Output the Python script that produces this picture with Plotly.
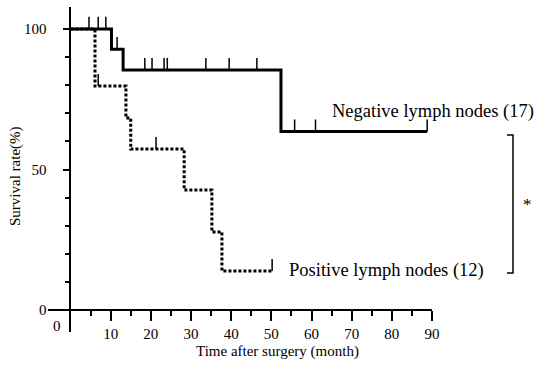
import plotly.graph_objects as go

# ---- data ----
neg_times = [0, 10.2, 13.1, 52.4, 88.8]
neg_surv = [100, 92.8, 85.4, 63.5, 63.5]
neg_censor = [4.6, 6.9, 8.8, 11.6, 18.5, 20.3, 23.3, 24.1, 33.7, 39.5, 46.4, 55.8, 61.0, 88.8]

pos_times = [0, 6.1, 13.8, 15.0, 28.3, 35.2, 37.7, 50.2]
pos_surv = [100, 79.7, 68.3, 57.3, 42.7, 27.8, 13.9, 13.9]
pos_censor = [6.9, 21.3, 50.2]

x_ticks = [10, 20, 30, 40, 50, 60, 70, 80, 90]
x_minor = [5, 15, 25, 35, 45, 55, 65, 75, 85]
y_ticks = [0, 50, 100]
y_minor = [10, 20, 30, 40, 60, 70, 80, 90]

neg_label = "Negative lymph nodes (17)"
pos_label = "Positive lymph nodes (12)"

W, H = 539, 386
ML, MR, MT, MB = 48, 107, 7, 54
XR = [-5.6, 90.0]
YR = [-7.8, 107.8]
FONT = "Liberation Serif"


def surv_at(times, surv, t):
    s = surv[0]
    for tt, ss in zip(times, surv):
        if tt <= t:
            s = ss
    return s


def censor_segments(times, surv, cens, h=4.3):
    xs, ys = [], []
    for c in cens:
        s = surv_at(times, surv, c)
        xs += [c, c, None]
        ys += [s, s + h, None]
    return xs, ys


def px(xp):
    return (xp - ML) / (W - ML - MR)


def py(yp):
    return (H - MB - yp) / (H - MT - MB)


fig = go.Figure()

fig.add_trace(go.Scatter(x=neg_times, y=neg_surv, mode="lines", line_shape="hv",
                         line=dict(color="black", width=3), showlegend=False, hoverinfo="skip"))
fig.add_trace(go.Scatter(x=pos_times, y=pos_surv, mode="lines", line_shape="hv",
                         line=dict(color="black", width=3, dash="3px,2px"), showlegend=False,
                         hoverinfo="skip"))

cx, cy = censor_segments(neg_times, neg_surv, neg_censor)
fig.add_trace(go.Scatter(x=cx, y=cy, mode="lines", line=dict(color="black", width=1.5),
                         showlegend=False, hoverinfo="skip"))
cx, cy = censor_segments(pos_times, pos_surv, pos_censor)
fig.add_trace(go.Scatter(x=cx, y=cy, mode="lines", line=dict(color="black", width=1.5),
                         showlegend=False, hoverinfo="skip"))

xpos = (0 - YR[0]) / (YR[1] - YR[0])
ypos = (0 - XR[0]) / (XR[1] - XR[0])

fig.update_layout(
    width=W, height=H, autosize=False,
    margin=dict(l=ML, r=MR, t=MT, b=MB, pad=0, autoexpand=False),
    plot_bgcolor="white", paper_bgcolor="white",
    font=dict(family=FONT, size=15, color="black"),
    xaxis=dict(range=XR, anchor="free", position=xpos, automargin=False, showline=True,
               linecolor="black", linewidth=2, showgrid=False, zeroline=False, tickmode="array",
               tickvals=x_ticks, ticks="outside", ticklen=10, tickwidth=1.5, tickcolor="black",
               ticklabelstandoff=0,
               tickfont=dict(family=FONT, size=15, color="black"),
               minor=dict(tickmode="array", tickvals=x_minor, ticks="outside", ticklen=5,
                          tickwidth=1.5, tickcolor="black", showgrid=False)),
    yaxis=dict(range=YR, anchor="free", position=ypos, automargin=False, showline=True,
               linecolor="black", linewidth=2, showgrid=False, zeroline=False, tickmode="array",
               tickvals=y_ticks, ticks="outside", ticklen=6, tickwidth=1.5, tickcolor="black",
               ticklabelstandoff=14,
               tickfont=dict(family=FONT, size=15, color="black"),
               minor=dict(tickmode="array", tickvals=y_minor, ticks="outside", ticklen=4,
                          tickwidth=1.5, tickcolor="black", showgrid=False)),
)

ann = [
    dict(text=neg_label, x=64.7, y=70.5, xref="x", yref="y", xanchor="left", yanchor="middle",
         showarrow=False, font=dict(family=FONT, size=18.5, color="black")),
    dict(text=pos_label, x=53.9, y=14.2, xref="x", yref="y", xanchor="left", yanchor="middle",
         showarrow=False, font=dict(family=FONT, size=18.5, color="black")),
    dict(text="Time after surgery (month)", x=px(277), y=py(351), xref="paper", yref="paper",
         xanchor="center", yanchor="middle", showarrow=False,
         font=dict(family=FONT, size=15, color="black")),
    dict(text="Survival rate(%)", x=px(15), y=py(176), xref="paper", yref="paper",
         xanchor="center", yanchor="middle", textangle=-90, showarrow=False,
         font=dict(family=FONT, size=15, color="black")),
    dict(text="0", x=px(57), y=py(326), xref="paper", yref="paper", xanchor="center",
         yanchor="middle", showarrow=False, font=dict(family=FONT, size=15, color="black")),
    dict(text="*", x=px(527), y=py(204), xref="paper", yref="paper", xanchor="center",
         yanchor="middle", showarrow=False, font=dict(family=FONT, size=17, color="black")),
]
fig.update_layout(annotations=ann)

fig.add_shape(type="path", xref="paper", yref="paper",
              path=f"M {px(507)} {py(135)} L {px(513)} {py(135)} L {px(513)} {py(273)} L {px(507)} {py(273)}",
              line=dict(color="black", width=1.5))

fig.write_html("out.html", config={"displayModeBar": False},
               post_script="document.body.style.margin='0';document.body.style.overflow='hidden';")
